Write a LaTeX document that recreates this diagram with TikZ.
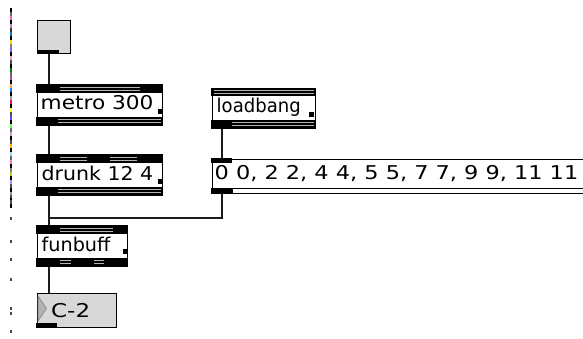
\documentclass[tikz,border=0pt]{standalone}
\usepackage{fontspec}
\setmainfont{DejaVu Sans}
\usepackage{graphicx}
\definecolor{cordc}{HTML}{1C1C1C}
\definecolor{slotgrey}{HTML}{B4B4B4}
\definecolor{boxfill}{HTML}{D8D8D8}
\newcommand\wtext[2]{\scalebox{#1}[1]{#2}}
\begin{document}
\begin{tikzpicture}[x=1pt,y=-1pt,
  box/.style={draw=black, line width=1.2pt, fill=white, inner sep=0pt, anchor=north west},
  cord/.style={draw=cordc, line width=2pt},
  port/.style={fill=black},
  slot/.style={draw=slotgrey, line width=1pt},
  label/.style={anchor=base west, inner sep=0pt, font=\fontsize{19}{19}\selectfont},
  handle/.style={fill=black}]
\clip (0,0) rectangle (583,339);
\fill[white] (0,0) rectangle (583,339);

% window edge at the left
\foreach \c [count=\i from 0] in {black, black!60, magenta!60, black, violet!50, black!80,
  cyan!50!blue, black, yellow!70!orange, black!50, blue!60, black, magenta!40, black!70,
  black, green!50!black, black!60, violet!70, black, orange!70, blue!50!cyan, black,
  black!40, magenta!70!red, black, yellow!80, black!70, blue!70, black, green!60, black!60,
  violet!40, black, black!70, orange!60!yellow, black, cyan!40, black!60, magenta!50, black,
  black!50, yellow!60!green, black, blue!40, black!70, black, black!40, black, black!70, black}
  {\fill[\c] (9.5,8+4*\i) rectangle (11.5,12+4*\i);}
\foreach \y in {195,217,240,258,278,307,312,330}
  {\fill[black!70] (9.5,\y) rectangle (11.5,\y+2.5);}

% boxes
\node[box, fill=boxfill, minimum width=33pt, minimum height=33pt] (toggle) at (37,20) {};
\node[box, minimum width=125pt, minimum height=40pt] (metro) at (37,85) {};
\node[box, minimum width=125pt, minimum height=40pt] (drunk) at (37,155) {};
\node[box, minimum width=90pt, minimum height=40pt] (funbuff) at (37,226) {};
\node[box, fill=boxfill, minimum width=79pt, minimum height=34pt] (num) at (37,293) {};
\node[box, minimum width=103pt, minimum height=39pt] (loadbang) at (212,89) {};
\node[box, minimum width=400pt, minimum height=34pt] (msg) at (212,159) {};

% outlets used by the patch cords
\coordinate (togout) at ([xshift=12pt]toggle.south west);
\coordinate (metroout) at ([xshift=12pt]metro.south west);
\coordinate (drunkout) at ([xshift=12pt]drunk.south west);
\coordinate (funout) at ([xshift=12pt]funbuff.south west);
\coordinate (lbout) at ([xshift=10pt]loadbang.south west);
\coordinate (msgout) at ([xshift=10pt]msg.south west);
\coordinate (join) at (49,218);

% patch cords
\draw[cord] (togout) -- (togout |- metro.north);
\draw[cord] (metroout) -- (metroout |- drunk.north);
\draw[cord] (drunkout) -- (drunkout |- funbuff.north);
\draw[cord] (funout) -- (funout |- num.north);
\draw[cord] (lbout) -- (lbout |- msg.north);
\draw[cord] (msgout) -- (msgout |- join) -- (join) -- (join |- funbuff.north);

% toggle outlet
\fill[port] (37,50) rectangle (59,54.5);

% metro 300
\fill[port] (36.4,84.4) rectangle (162.6,93);
\draw[slot] (60,87.5) -- (140,87.5) (60,90.5) -- (140,90.5);
\fill[port] (36.4,117) rectangle (162.6,125.6);
\draw[slot] (58,119.5) -- (160.5,119.5) (58,122.5) -- (160.5,122.5);
\fill[handle] (157.5,109) rectangle (161.5,114);
\node[label] (metrotxt) at (40.5,110) {\wtext{1.14}{metro 300}};

% drunk 12 4
\fill[port] (36.4,154.4) rectangle (162.6,163);
\draw[slot] (60,157.5) -- (87,157.5) (60,160.5) -- (87,160.5)
            (110,157.5) -- (137,157.5) (110,160.5) -- (137,160.5);
\fill[port] (36.4,187) rectangle (162.6,195.6);
\draw[slot] (58,189.5) -- (160.5,189.5) (58,192.5) -- (160.5,192.5);
\fill[handle] (157.5,179) rectangle (161.5,184);
\node[label] (drunktxt) at (41.5,180) {\wtext{1.08}{drunk 12 4}};

% funbuff
\fill[port] (36.4,225.4) rectangle (127.6,234);
\draw[slot] (60,228.5) -- (113,228.5) (60,231.5) -- (113,231.5);
\fill[port] (36.4,258) rectangle (127.6,266.6);
\draw[slot] (60,260.5) -- (71,260.5) (60,263.5) -- (71,263.5)
            (94,260.5) -- (104,260.5) (94,263.5) -- (104,263.5);
\fill[handle] (122.5,249) rectangle (126.5,254);
\node[label] (funtxt) at (41.5,251) {\wtext{1.01}{funbuff}};

% number box
\filldraw[fill=black!30, draw=black!50, line width=0.6pt] (38,296) -- (46.5,308.5) -- (38,321) -- cycle;
\fill[port] (36.4,322.5) rectangle (57,327.6);
\node[label] (numtxt) at (51,317) {\wtext{1.21}{C-2}};

% loadbang
\fill[port] (211.4,88.4) rectangle (315.6,96);
\draw[slot] (213.5,91) -- (314,91) (213.5,93.7) -- (314,93.7);
\fill[port] (211.4,120) rectangle (315.6,128.6);
\draw[slot] (232,122.5) -- (314,122.5) (232,125.5) -- (314,125.5);
\fill[handle] (309,112) rectangle (313.5,117);
\node[label] (lbtxt) at (216.5,112.5) {\wtext{0.95}{loadbang}};

% message box
\draw[line width=1.2pt] (212,188.5) -- (600,188.5);
\fill[port] (211.4,158.4) rectangle (232,163);
\fill[port] (211.4,188) rectangle (233,193.6);
\node[label] (msgtxt) at (214.5,179.5) {\wtext{1.18}{0 0, 2 2, 4 4, 5 5, 7 7, 9 9, 11 11}};
\end{tikzpicture}
\end{document}
